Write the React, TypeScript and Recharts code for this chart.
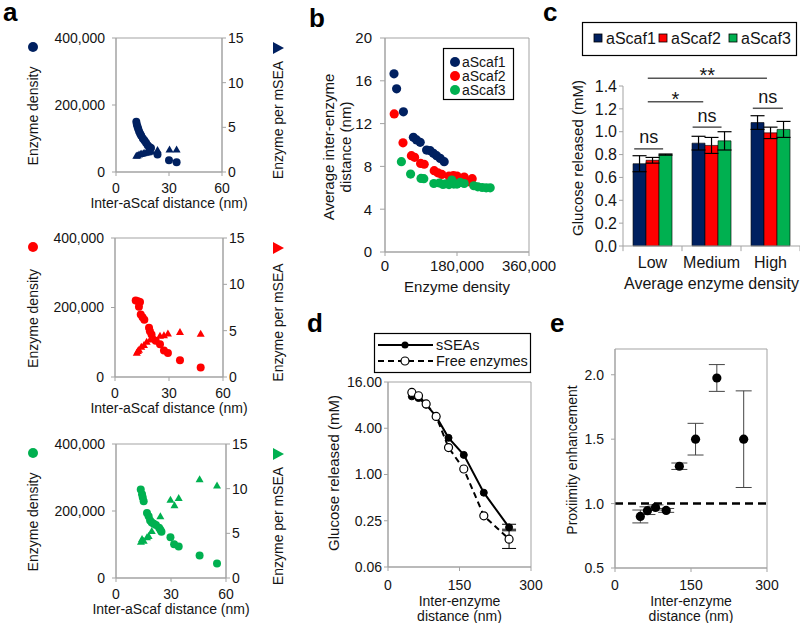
import {
  ScatterChart,
  Scatter,
  BarChart,
  Bar,
  LineChart,
  Line,
  XAxis,
  YAxis,
  ErrorBar,
  ReferenceArea,
  ReferenceLine,
} from 'recharts'

const FONT = '"Liberation Sans", Arial, Helvetica, sans-serif'
const NAVY = '#002060'
const RED = '#FF0000'
const GREEN = '#00B050'
const FRAME = '#a3a3a3'
const INK = '#141414'

// a: inter-aScaf distance (nm) -> enzyme density (circles) / enzyme per mSEA (triangles)
const aDistTicks = [0, 30, 60]
const aDensityTicks = [0, 200000, 400000]
const aPerSeaTicks = [0, 5, 10, 15]

const a1CircDist = [11.5, 11.8, 12.2, 12.6, 13.1, 13.7, 14.3, 15.2, 16.1, 17, 17.9, 18.9, 19.8, 23.5, 30, 34.3]
const a1Density = [150000, 142000, 135000, 128000, 121000, 114000, 108000, 100000, 94000, 87000, 80000, 75000, 72000, 52000, 35000, 29000]
const a1TriDist = [11.5, 12.2, 13, 13.8, 14.6, 15.5, 16.4, 17.3, 18.3, 19.2, 20, 23.5, 30.3, 34.3]
const a1PerSea = [1.75, 1.8, 1.9, 1.95, 2.0, 2.05, 2.1, 2.12, 2.15, 2.2, 2.3, 2.4, 2.45, 2.45]

const a2CircDist = [11.5, 12.8, 13.9, 13.3, 14.3, 15.3, 16.3, 18.9, 19.4, 20.3, 22.6, 25, 27.2, 29.4, 36.1, 47.6]
const a2Density = [220000, 218000, 216000, 202000, 180000, 172000, 165000, 142000, 132000, 122000, 104000, 94000, 76000, 69000, 48000, 27000]
const a2TriDist = [12.1, 12.7, 13.3, 14.6, 16.1, 17.6, 19.5, 21.7, 25, 27.2, 29.4, 36.1, 47.6]
const a2PerSea = [2.55, 2.75, 2.9, 3.2, 3.4, 3.75, 4.0, 4.2, 4.4, 4.45, 4.65, 4.8, 4.6]

const a3CircDist = [13.5, 14.2, 14.6, 15.1, 16.9, 17.8, 18.6, 19.5, 20.6, 21.8, 23.5, 24.2, 24.8, 29.7, 31.7, 34.2, 45.6, 55.1]
const a3Density = [264000, 250000, 240000, 229000, 194000, 184000, 172000, 166000, 162000, 158000, 150000, 144000, 138000, 122000, 101000, 94000, 67000, 43000]
const a3TriDist = [13.6, 14.2, 15.1, 16.9, 17.8, 19.5, 24.2, 29.7, 31.9, 34.2, 45.6, 55.1]
const a3PerSea = [4.0, 4.3, 4.1, 4.5, 4.65, 5.2, 6.85, 8.7, 8.1, 8.9, 11.0, 10.3]

// b: enzyme density -> average inter-enzyme distance (nm)
const bDensityTicks = [0, 180000, 360000]
const bDistTicks = [0, 4, 8, 12, 16, 20]
const b1Density = [22500, 29000, 46000, 71000, 79000, 88000, 104000, 113000, 121000, 129000, 138000, 148000]
const b1Dist = [16.65, 15.25, 13.1, 10.72, 10.47, 10.25, 9.53, 9.47, 9.22, 9.0, 8.75, 8.44]
const b2Density = [23000, 45000, 66000, 74000, 89000, 98000, 123000, 132000, 142000, 160000, 171000, 180000, 198000, 211000, 218000]
const b2Dist = [12.9, 10.2, 9.0, 8.85, 8.28, 8.2, 7.6, 7.4, 7.25, 7.1, 7.15, 7.1, 7.0, 6.56, 6.85]
const b3Density = [41000, 64000, 90000, 97000, 122000, 136000, 145000, 152000, 160000, 167000, 172000, 180000, 188000, 198000, 222000, 232000, 243000, 253000, 263000]
const b3Dist = [8.44, 7.28, 6.88, 6.85, 6.4, 6.45, 6.32, 6.38, 6.3, 6.72, 6.35, 6.35, 6.5, 6.4, 6.19, 6.09, 6.03, 6.0, 6.0]

// c: glucose released (mM) by average enzyme density
const cCats = ['Low', 'Medium', 'High']
const cScaf1 = [0.72, 0.9, 1.08]
const cScaf1Err = [0.07, 0.06, 0.06]
const cScaf2 = [0.75, 0.88, 0.99]
const cScaf2Err = [0.025, 0.07, 0.05]
const cScaf3 = [0.8, 0.92, 1.02]
const cScaf3Err = [0.005, 0.08, 0.07]
const cTicks = [0, 0.2, 0.4, 0.6, 0.8, 1.0, 1.2, 1.4]
// significance brackets: x in category slots (0..3), y in mM
const cBrackets = [
  { from: 0.19, to: 0.68, y: 0.85, text: 'ns' },
  { from: 1.18, to: 1.67, y: 1.04, text: 'ns' },
  { from: 2.2, to: 2.71, y: 1.205, text: 'ns' },
  { from: 0.42, to: 1.36, y: 1.262, text: '*' },
  { from: 0.42, to: 2.44, y: 1.467, text: '**' },
]
const cBounds = [0, 1, 2, 3]

// d: glucose released vs inter-enzyme distance (log2 axis)
const dDist = [50, 64, 80, 101, 127, 159, 201, 254]
const dSseas = [10.4, 9.9, 8.1, 5.7, 3.0, 1.8, 0.58, 0.205]
const dFree = [11.7, 10.6, 8.3, 5.7, 2.24, 1.18, 0.29, 0.144]
const dSseasErr = [null, null, null, null, null, null, null, [0.02, 0.02]]
const dFreeErr = [null, null, null, null, null, null, null, [0.035, 0.05]]
const dTicks = [0.0625, 0.25, 1, 4, 16]
const dTickLabels = ['0.06', '0.25', '1.00', '4.00', '16.00']
const deDistTicks = [0, 150, 300]

// e: proximity enhancement
const eDist = [50, 64, 80, 101, 127, 159, 201, 254]
const eEnh = [0.9, 0.945, 0.97, 0.947, 1.29, 1.5, 1.975, 1.5]
const eErr = [0.05, 0.03, 0.02, 0.015, 0.025, 0.123, 0.104, 0.375]
const eTicks = [0.5, 1.0, 1.5, 2.0]

const pts = (xs: number[], ys: number[]) => xs.map((x, i) => ({ x, y: ys[i] }))

const txt = (size: number) => ({ fontSize: size, fontFamily: FONT, fill: INK })

function yTitle(
  lines: string[],
  dx: number,
  dy: number,
  size: number,
  marker?: (x: number, y: number) => JSX.Element,
  markerDy = 0,
) {
  return (props: any) => {
    const vb = props.viewBox
    const cy = vb.y + vb.height / 2 + dy
    return (
      <g>
        {lines.map((t, i) => {
          const x = vb.x + dx + i * size * 1.15
          return (
            <text key={i} x={x} y={cy} transform={`rotate(-90 ${x} ${cy})`} textAnchor="middle" dominantBaseline="central" {...txt(size)}>
              {t}
            </text>
          )
        })}
        {marker && marker(vb.x + dx, vb.y + markerDy)}
      </g>
    )
  }
}

function xTitle(lines: string[], dy: number, size: number, gap = 0) {
  return (props: any) => {
    const vb = props.viewBox
    const cx = vb.x + vb.width / 2
    return (
      <g>
        {lines.map((t, i) => (
          <text key={i} x={cx} y={vb.y + dy + i * gap} textAnchor="middle" {...txt(size)}>
            {t}
          </text>
        ))}
      </g>
    )
  }
}

function bracketLabel(text: string) {
  return (props: any) => {
    const vb = props.viewBox
    const star = text.includes('*')
    return (
      <text x={vb.x + vb.width / 2} y={vb.y + (star ? 4 : -5.5)} textAnchor="middle" {...txt(star ? 20 : 18)}>
        {text}
      </text>
    )
  }
}

function PanelA({ top, height, leftW, rightW, color, circles, triangles }: any) {
  const tick = txt(14)
  const dot = (p: any) => <circle cx={p.cx} cy={p.cy} r={4} fill={color} />
  const tri = (p: any) => (
    <polygon points={`${p.cx},${p.cy - 4.5} ${p.cx - 4},${p.cy + 2.5} ${p.cx + 4},${p.cy + 2.5}`} fill={color} />
  )
  return (
    <div style={{ position: 'absolute', left: 0, top }}>
      <ScatterChart width={290} height={height} margin={{ top: 38, right: 2, bottom: 0, left: 0 }}>
        <XAxis
          type="number"
          dataKey="x"
          domain={[0, 60]}
          ticks={aDistTicks}
          interval={0}
          height={40}
          tick={tick}
          tickSize={4}
          tickMargin={7}
          axisLine={{ stroke: FRAME }}
          tickLine={{ stroke: FRAME }}
          label={xTitle(['Inter-aScaf distance (nm)'], 36, 14)}
        />
        <YAxis
          yAxisId="l"
          type="number"
          dataKey="y"
          domain={[0, 400000]}
          ticks={aDensityTicks}
          interval={0}
          width={leftW}
          tick={tick}
          tickSize={4}
          tickMargin={7}
          tickFormatter={(v: number) => v.toLocaleString('en-US')}
          axisLine={{ stroke: FRAME }}
          tickLine={{ stroke: FRAME }}
          label={yTitle(['Enzyme density'], 33, 11, 14, (x, y) => <circle cx={x} cy={y} r={5} fill={color} />, 9)}
        />
        <YAxis
          yAxisId="r"
          orientation="right"
          type="number"
          dataKey="y"
          domain={[0, 15]}
          ticks={aPerSeaTicks}
          interval={0}
          width={rightW}
          tick={tick}
          tickSize={4}
          tickMargin={2}
          axisLine={{ stroke: FRAME }}
          tickLine={{ stroke: FRAME }}
          label={yTitle(
            ['Enzyme per mSEA'],
            rightW - 10,
            15,
            14,
            (x, y) => <polygon points={`${x - 5},${y - 6} ${x + 6},${y} ${x - 5},${y + 6}`} fill={color} />,
            10,
          )}
        />
        <ReferenceArea yAxisId="l" x1={0} x2={60} y1={0} y2={400000} fill="none" stroke={FRAME} ifOverflow="visible" />
        <Scatter yAxisId="l" data={circles} shape={dot} isAnimationActive={false} />
        <Scatter yAxisId="r" data={triangles} shape={tri} isAnimationActive={false} />
      </ScatterChart>
    </div>
  )
}

function PanelB() {
  const tick = txt(15)
  const series = [
    { name: 'aScaf1', color: NAVY, data: pts(b1Density, b1Dist) },
    { name: 'aScaf2', color: RED, data: pts(b2Density, b2Dist) },
    { name: 'aScaf3', color: GREEN, data: pts(b3Density, b3Dist) },
  ]
  return (
    <div style={{ position: 'absolute', left: 290, top: 0 }}>
      <ScatterChart width={275} height={296} margin={{ top: 38, right: 36, bottom: 0, left: 0 }}>
        <XAxis
          type="number"
          dataKey="x"
          domain={[0, 360000]}
          ticks={bDensityTicks}
          interval={0}
          height={44}
          tick={tick}
          tickSize={4}
          tickMargin={4}
          tickFormatter={(v: number) => v.toLocaleString('en-US')}
          axisLine={{ stroke: FRAME }}
          tickLine={{ stroke: FRAME }}
          label={xTitle(['Enzyme density'], 40, 15)}
        />
        <YAxis
          type="number"
          dataKey="y"
          domain={[0, 20]}
          ticks={bDistTicks}
          interval={0}
          width={95}
          tick={tick}
          tickSize={5}
          tickMargin={8}
          axisLine={{ stroke: FRAME }}
          tickLine={{ stroke: FRAME }}
          label={yTitle(['Average inter-enzyme', 'distance (nm)'], 38, 2, 15)}
        />
        <ReferenceArea x1={0} x2={360000} y1={0} y2={20} fill="none" stroke={FRAME} ifOverflow="visible" />
        {series.map((s) => (
          <Scatter
            key={s.name}
            data={s.data}
            shape={(p: any) => <circle cx={p.cx} cy={p.cy} r={4.6} fill={s.color} />}
            isAnimationActive={false}
          />
        ))}
      </ScatterChart>
    </div>
  )
}

function PanelC() {
  // each category sits in the middle of a one-unit slot of a numeric x axis
  const data = cCats.map((cat, i) => ({
    pos: i + 0.5,
    cat,
    s1: cScaf1[i],
    e1: cScaf1Err[i],
    s2: cScaf2[i],
    e2: cScaf2Err[i],
    s3: cScaf3[i],
    e3: cScaf3Err[i],
  }))
  const bars = [
    { key: 's1', err: 'e1', color: NAVY },
    { key: 's2', err: 'e2', color: RED },
    { key: 's3', err: 'e3', color: GREEN },
  ]
  return (
    <div style={{ position: 'absolute', left: 530, top: 0 }}>
      <BarChart width={270} height={294} data={data} margin={{ top: 86, right: 0, bottom: 0, left: 0 }} barCategoryGap="17%" barGap={0}>
        <XAxis
          type="number"
          dataKey="pos"
          domain={[0, 3]}
          allowDataOverflow
          ticks={data.map((d) => d.pos)}
          interval={0}
          tickFormatter={(v: number) => cCats[Math.floor(v)]}
          height={48}
          tick={txt(16)}
          tickSize={5}
          tickMargin={6}
          tickLine={false}
          axisLine={{ stroke: FRAME }}
          label={xTitle(['Average enzyme density'], 43, 16)}
        />
        <YAxis
          type="number"
          domain={[0, 1.4]}
          ticks={cTicks}
          interval={0}
          width={93}
          tick={txt(16)}
          tickSize={4}
          tickMargin={2}
          tickFormatter={(v: number) => v.toFixed(1)}
          axisLine={{ stroke: FRAME }}
          tickLine={{ stroke: FRAME }}
          label={yTitle(['Glucose released (mM)'], 47, -8, 15)}
        />
        {bars.map((b) => (
          <Bar key={b.key} dataKey={b.key} fill={b.color} stroke="#000" strokeWidth={0.6} isAnimationActive={false}>
            <ErrorBar dataKey={b.err} width={7} stroke="#000" strokeWidth={1.2} direction="y" />
          </Bar>
        ))}
        {cBounds.map((x) => (
          <ReferenceLine key={`t${x}`} segment={[{ x, y: 0 }, { x, y: -0.045 }]} stroke={FRAME} ifOverflow="visible" />
        ))}
        {cBrackets.map((b, i) => (
          <ReferenceLine
            key={i}
            segment={[{ x: b.from, y: b.y }, { x: b.to, y: b.y }]}
            stroke="#555"
            strokeWidth={1.5}
            ifOverflow="visible"
            label={bracketLabel(b.text)}
          />
        ))}
      </BarChart>
    </div>
  )
}

function PanelD() {
  const data = dDist.map((x, i) => ({ x, s: dSseas[i], f: dFree[i], se: dSseasErr[i], fe: dFreeErr[i] }))
  return (
    <div style={{ position: 'absolute', left: 290, top: 300 }}>
      <LineChart width={262} height={323} data={data} margin={{ top: 82, right: 21, bottom: 0, left: 0 }}>
        <XAxis
          type="number"
          dataKey="x"
          domain={[0, 300]}
          ticks={deDistTicks}
          interval={0}
          height={56}
          tick={txt(14)}
          tickSize={4}
          tickMargin={9}
          axisLine={{ stroke: FRAME }}
          tickLine={{ stroke: FRAME }}
          label={xTitle(['Inter-enzyme', 'distance (nm)'], 39, 14, 15)}
        />
        <YAxis
          type="number"
          scale="log"
          domain={[0.0625, 16]}
          ticks={dTicks}
          interval={0}
          allowDataOverflow
          width={98}
          tick={txt(14)}
          tickSize={4}
          tickMargin={2}
          tickFormatter={(v: number) => dTickLabels[dTicks.indexOf(v)] ?? String(v)}
          axisLine={{ stroke: FRAME }}
          tickLine={{ stroke: FRAME }}
          label={yTitle(['Glucose released (mM)'], 43, -1.5, 15)}
        />
        <ReferenceArea x1={0} x2={300} y1={0.0625} y2={16} fill="none" stroke={FRAME} ifOverflow="visible" />
        <Line
          dataKey="s"
          stroke="#000"
          strokeWidth={2}
          dot={{ r: 3.5, fill: '#000', stroke: '#000', strokeWidth: 1 }}
          isAnimationActive={false}
        >
          <ErrorBar dataKey="se" width={7} stroke="#000" strokeWidth={1} direction="y" />
        </Line>
        <Line
          dataKey="f"
          stroke="#000"
          strokeWidth={2}
          strokeDasharray="6 4"
          dot={{ r: 4, fill: '#fff', stroke: '#000', strokeWidth: 1.2, strokeDasharray: '' }}
          isAnimationActive={false}
        >
          <ErrorBar dataKey="fe" width={7} stroke="#000" strokeWidth={1} direction="y" />
        </Line>
      </LineChart>
    </div>
  )
}

function PanelE() {
  const data = eDist.map((x, i) => ({ x, y: eEnh[i], err: eErr[i] }))
  return (
    <div style={{ position: 'absolute', left: 540, top: 300 }}>
      <ScatterChart width={260} height={323} margin={{ top: 49, right: 33, bottom: 0, left: 0 }}>
        <XAxis
          type="number"
          dataKey="x"
          domain={[0, 300]}
          ticks={deDistTicks}
          interval={0}
          height={55}
          tick={txt(14)}
          tickSize={4}
          tickMargin={8}
          axisLine={{ stroke: FRAME }}
          tickLine={{ stroke: FRAME }}
          label={xTitle(['Inter-enzyme', 'distance (nm)'], 38, 14, 15)}
        />
        <YAxis
          type="number"
          dataKey="y"
          domain={[0.5, 2.2]}
          ticks={eTicks}
          interval={0}
          width={75}
          tick={txt(14)}
          tickSize={4}
          tickMargin={7}
          tickFormatter={(v: number) => v.toFixed(1)}
          axisLine={{ stroke: FRAME }}
          tickLine={{ stroke: FRAME }}
          label={yTitle(['Proxiimity enhancement'], 32, 1.5, 14)}
        />
        <ReferenceArea x1={0} x2={300} y1={0.5} y2={2.2} fill="none" stroke={FRAME} ifOverflow="visible" />
        <ReferenceLine y={1} stroke="#000" strokeWidth={2.5} strokeDasharray="8 5" />
        <Scatter
          data={data}
          shape={(p: any) => <circle cx={p.cx} cy={p.cy} r={4.6} fill="#000" />}
          isAnimationActive={false}
        >
          <ErrorBar dataKey="err" width={8} stroke="#444" strokeWidth={1} direction="y" />
        </Scatter>
      </ScatterChart>
    </div>
  )
}

function Overlay() {
  const letter = { fontSize: 26, fontWeight: 700, fontFamily: FONT, fill: '#000' }
  const bItems = [
    { name: 'aScaf1', color: NAVY },
    { name: 'aScaf2', color: RED },
    { name: 'aScaf3', color: GREEN },
  ]
  const cItems = [
    { name: 'aScaf1', color: NAVY, x: 598 },
    { name: 'aScaf2', color: RED, x: 663 },
    { name: 'aScaf3', color: GREEN, x: 733 },
  ]
  return (
    <svg width={800} height={623} style={{ position: 'absolute', left: 0, top: 0, pointerEvents: 'none' }}>
      <text x={3} y={21} {...letter}>a</text>
      <text x={309} y={27} {...letter}>b</text>
      <text x={543} y={21} {...letter}>c</text>
      <text x={307} y={332} {...letter}>d</text>
      <text x={550} y={332} {...letter}>e</text>

      <rect x={443.5} y={48.5} width={70} height={51} fill="#fff" stroke="#000" strokeWidth={1.2} />
      {bItems.map((it, i) => (
        <g key={it.name}>
          <circle cx={455} cy={62 + i * 14} r={5} fill={it.color} />
          <text x={462} y={62 + i * 14} dominantBaseline="central" {...txt(14)}>{it.name}</text>
        </g>
      ))}

      <rect x={582.5} y={22.5} width={214} height={33} fill="#fff" stroke="#000" strokeWidth={1.2} />
      {cItems.map((it) => (
        <g key={it.name}>
          <rect x={it.x - 4} y={34} width={8} height={8} fill={it.color} stroke="#000" strokeWidth={0.8} />
          <text x={it.x + 8} y={38} dominantBaseline="central" {...txt(16)}>{it.name}</text>
        </g>
      ))}

      <rect x={374.5} y={333.5} width={156} height={39} fill="#fff" stroke="#000" strokeWidth={1.2} />
      <line x1={378} x2={433} y1={345} y2={345} stroke="#000" strokeWidth={2} />
      <circle cx={405} cy={345} r={3.5} fill="#000" />
      <text x={436} y={345} dominantBaseline="central" {...txt(14.5)}>sSEAs</text>
      <line x1={378} x2={433} y1={361} y2={361} stroke="#000" strokeWidth={2} strokeDasharray="6 4" />
      <circle cx={405} cy={361} r={4} fill="#fff" stroke="#000" strokeWidth={1.2} />
      <text x={436} y={361} dominantBaseline="central" {...txt(14.5)}>Free enzymes</text>
    </svg>
  )
}

export default function App() {
  return (
    <div
      style={{
        position: 'absolute',
        left: 0,
        top: 0,
        width: 800,
        height: 623,
        overflow: 'hidden',
        background: '#fff',
        fontFamily: FONT,
      }}
    >
      <PanelA top={0} height={212} leftW={116} rightW={66} color={NAVY} circles={pts(a1CircDist, a1Density)} triangles={pts(a1TriDist, a1PerSea)} />
      <PanelA top={200} height={217} leftW={115} rightW={65} color={RED} circles={pts(a2CircDist, a2Density)} triangles={pts(a2TriDist, a2PerSea)} />
      <PanelA top={406} height={212} leftW={116} rightW={62} color={GREEN} circles={pts(a3CircDist, a3Density)} triangles={pts(a3TriDist, a3PerSea)} />
      <PanelB />
      <PanelC />
      <PanelD />
      <PanelE />
      <Overlay />
    </div>
  )
}
